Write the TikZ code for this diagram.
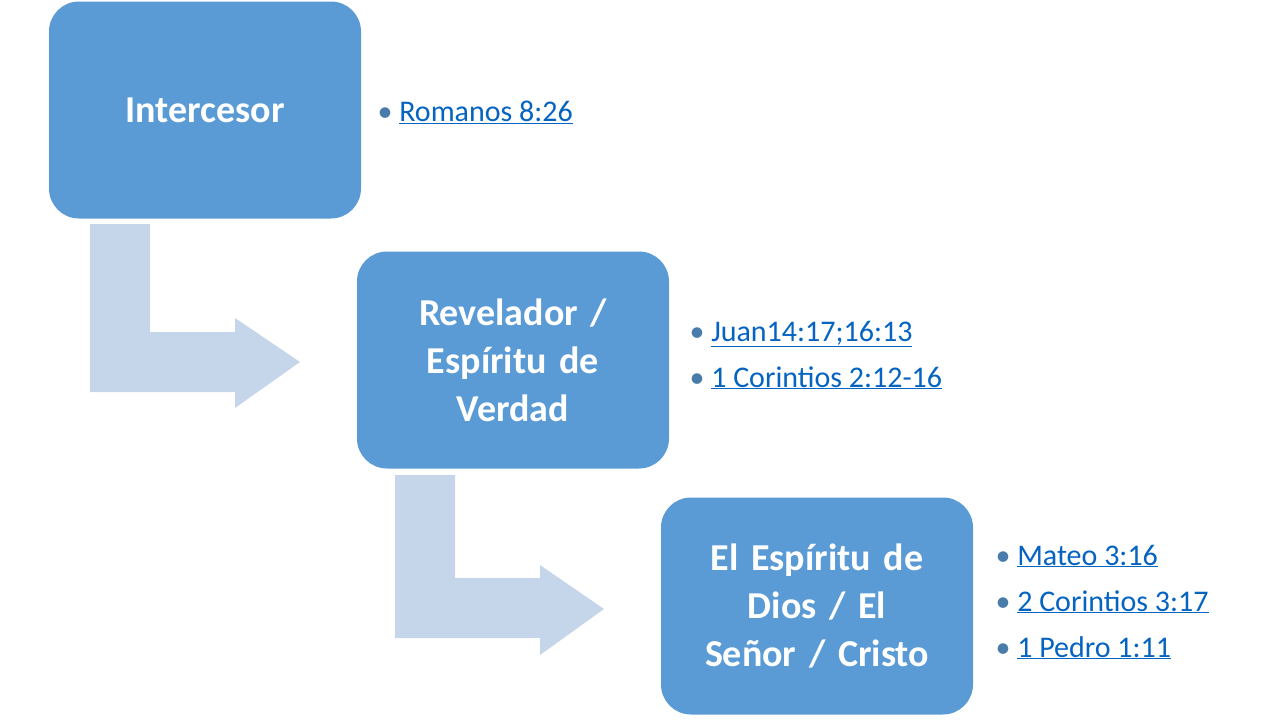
\documentclass[tikz,border=0pt]{standalone}
\usepackage{fontspec}
\setmainfont{Carlito}
\definecolor{boxblue}{HTML}{5B9BD5}
\definecolor{arrowblue}{HTML}{C5D5EA}
\definecolor{linkblue}{HTML}{0563C1}
\newcommand\enlace[1]{\textcolor{linkblue}{\underline{#1}}}
\begin{document}
\begin{tikzpicture}[x=1pt,y=-1pt,
    caja/.style={rectangle, rounded corners=30pt, fill=boxblue, text=white,
        font=\fontsize{38}{48}\selectfont\bfseries, align=center,
        minimum width=312pt, minimum height=217pt, text width=270pt},
    lista/.style={anchor=west, align=left,
        font=\fontsize{30}{46}\selectfont, text=boxblue!80!black},
    flecha/.style={fill=arrowblue}
    ]
\useasboundingbox (0,0) rectangle (1280,720);

\node[caja] (intercesor) at (205,110) {Intercesor};
\node[caja] (revelador) at (513,360) {Revelador /\\Espíritu de\\Verdad};
\node[caja] (dios) at (817,606) {El Espíritu de\\Dios / El\\Señor / Cristo};

% bent arrows
\fill[flecha] (90,224) -- (150,224) -- (150,332) -- (235,332) -- (235,318)
    -- (300,362) -- (235,408) -- (235,392) -- (90,392) -- cycle;
\fill[flecha] (395,475) -- (455,475) -- (455,578) -- (540,578) -- (540,565)
    -- (604,609) -- (540,655) -- (540,638) -- (395,638) -- cycle;

% references
\node[lista] (ref1) at (374,112) {• \enlace{Romanos 8:26}};
\node[lista] (ref2) at (686,355) {• \enlace{Juan14:17;16:13}\\• \enlace{1 Corintios 2:12-16}};
\node[lista] (ref3) at (992,602) {• \enlace{Mateo 3:16}\\• \enlace{2 Corintios 3:17}\\• \enlace{1 Pedro 1:11}};
\end{tikzpicture}
\end{document}
